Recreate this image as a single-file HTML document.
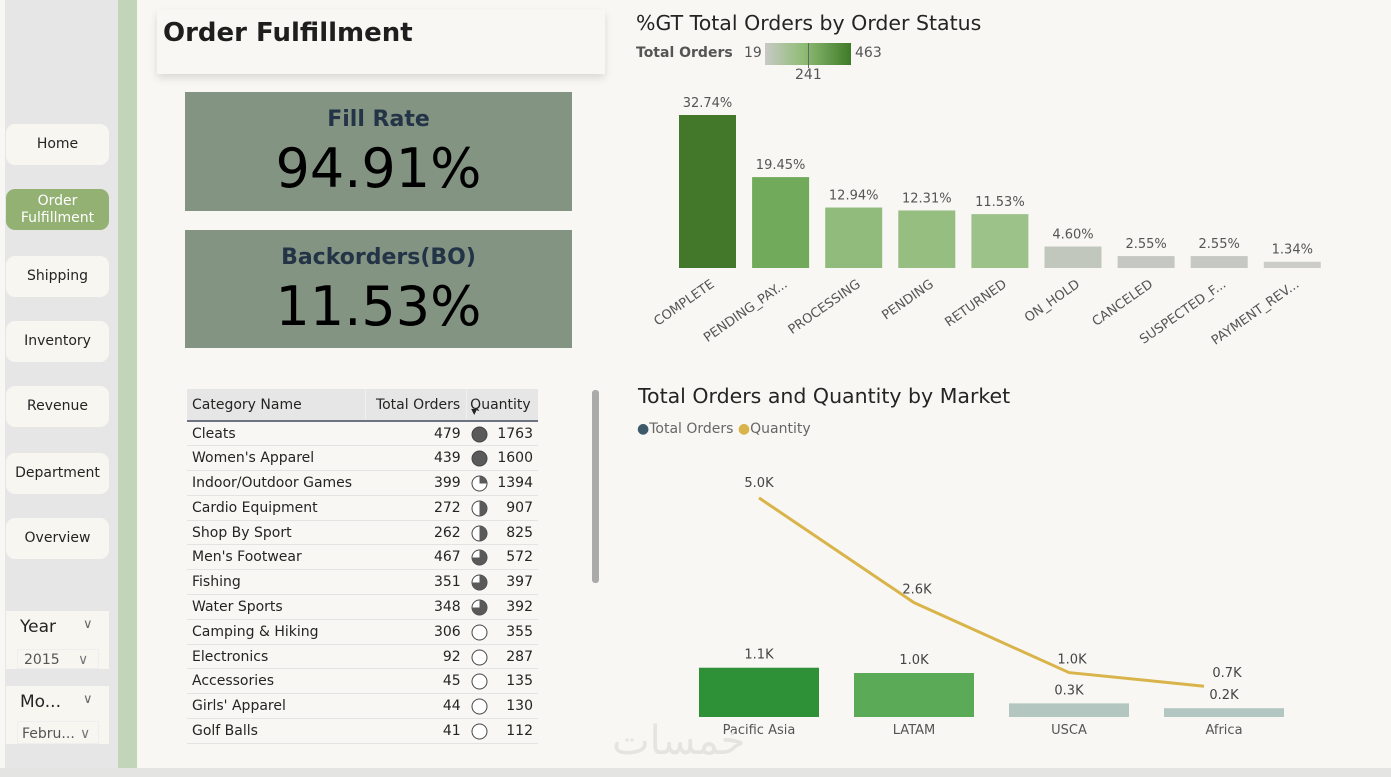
<!DOCTYPE html>
<html><head><meta charset="utf-8">
<style>
*{box-sizing:border-box;margin:0;padding:0}
body{width:1391px;height:777px;background:#f8f7f3;font-family:"DejaVu Sans","Liberation Sans",sans-serif;position:relative;overflow:hidden;color:#252423}
.abs{position:absolute}
.nav{position:absolute;left:6px;width:103px;height:41px;background:#f7f6f1;border-radius:9px;font-size:14px;display:flex;align-items:center;justify-content:center;text-align:center;color:#252423;line-height:17px}
.kpi{position:absolute;left:185px;width:387px;background:#849482;text-align:center}
.kpi .t{font-weight:bold;font-size:22px;color:#243447;margin-top:15px}
.kpi .v{font-size:54px;color:#000;line-height:62px;margin-top:6px}
table{border-collapse:collapse;font-size:14px}
</style></head><body>
<div class="abs" style="left:5px;top:0;width:113px;height:768px;background:#e6e6e6"></div>
<div class="abs" style="left:118px;top:0;width:19px;height:768px;background:#c2d5b9"></div>
<div class="abs" style="left:0;top:768px;width:1391px;height:9px;background:#e4e4e2"></div>
<div class="nav" style="top:124px">Home</div>
<div class="nav" style="top:189px;background:#94b174;color:#fff">Order<br>Fulfillment</div>
<div class="nav" style="top:256px">Shipping</div>
<div class="nav" style="top:321px">Inventory</div>
<div class="nav" style="top:386px">Revenue</div>
<div class="nav" style="top:453px">Department</div>
<div class="nav" style="top:518px">Overview</div>
<div class="abs" style="left:6px;top:611px;width:103px;height:58px;background:#f7f6f1">
 <div class="abs" style="left:14px;top:6px;font-size:17px">Year</div><div class="abs" style="left:77px;top:6px;font-size:13px;color:#666">&#8744;</div>
 <div class="abs" style="left:11px;top:38px;width:82px;height:20px;border:1px solid #eee;font-size:14px;color:#555;padding-left:6px;padding-top:2px">2015 <span style="position:absolute;left:60px;color:#777">&#8744;</span></div>
</div>
<div class="abs" style="left:6px;top:686px;width:103px;height:58px;background:#f7f6f1">
 <div class="abs" style="left:14px;top:6px;font-size:17px">Mo...</div><div class="abs" style="left:77px;top:6px;font-size:13px;color:#666">&#8744;</div>
 <div class="abs" style="left:11px;top:35px;width:82px;height:23px;border:1px solid #eee;font-size:14px;color:#555;padding-left:4px;padding-top:4px">Febru...<span style="position:absolute;left:62px;color:#777">&#8744;</span></div>
</div>

<div class="abs" style="left:157px;top:10px;width:448px;height:64px;background:#f8f7f3;box-shadow:0 4px 8px rgba(0,0,0,0.12)">
 <div class="abs" style="left:6px;top:8px;font-size:26px;font-weight:bold;color:#1e1e1e">Order Fulfillment</div>
</div>
<div class="kpi" style="top:92px;height:119px"><div class="t">Fill Rate</div><div class="v">94.91%</div></div>
<div class="kpi" style="top:230px;height:118px"><div class="t">Backorders(BO)</div><div class="v">11.53%</div></div>

<div class="abs" style="left:187px;top:389px;width:351px">
<table id="tbl" style="width:351px">
<thead><tr style="background:#e6e6e6;height:32px;border-bottom:2px solid #6b7480">
<th style="text-align:left;font-weight:normal;padding-left:5px;width:178px">Category Name</th>
<th style="text-align:right;font-weight:normal;padding-right:6px;border-left:1px solid #f0f0f0">Total Orders</th>
<th style="text-align:left;font-weight:normal;padding-left:3px;border-left:1px solid #f0f0f0;position:relative">Quantity<span style="position:absolute;left:4px;top:18px;font-size:8px">&#9660;</span></th></tr></thead>
<tbody id="tb"></tbody></table></div>
<div class="abs" style="left:592px;top:390px;width:7px;height:193px;background:#aaa;border-radius:3px"></div>

<div class="abs" style="left:636px;top:11px;font-size:20.5px;color:#252423">%GT Total Orders by Order Status</div>
<div class="abs" style="left:636px;top:45px;font-size:14px;font-weight:bold;color:#555">Total Orders</div>
<div class="abs" style="left:744px;top:45px;font-size:14px;color:#555">19</div>
<div class="abs" style="left:765px;top:43px;width:86px;height:22px;background:linear-gradient(90deg,#c8c9c5,#8fbc75 45%,#3f7a28)"></div>
<div class="abs" style="left:808px;top:43px;width:1px;height:25px;background:#666"></div>
<div class="abs" style="left:855px;top:45px;font-size:14px;color:#555">463</div>
<div class="abs" style="left:795px;top:67px;font-size:14px;color:#555">241</div>
<svg class="abs" id="st" style="left:0;top:0" width="1391" height="777"></svg>

<div class="abs" style="left:638px;top:384px;font-size:20.5px;color:#252423">Total Orders and Quantity by Market</div>
<div class="abs" style="left:637px;top:421px;font-size:14px;color:#666"><span style="color:#3e5a6a">&#9679;</span>Total Orders <span style="color:#d9b44a">&#9679;</span>Quantity</div>
<div class="abs" style="left:612px;top:718px;font-size:40px;color:#e6e4de;font-family:'DejaVu Sans',sans-serif">خمسات</div>

<script>
const rowsNames=["Cleats","Women's Apparel","Indoor/Outdoor Games","Cardio Equipment","Shop By Sport","Men's Footwear","Fishing","Water Sports","Camping & Hiking","Electronics","Accessories","Girls' Apparel","Golf Balls"];
const rowsOrders=[479,439,399,272,262,467,351,348,306,92,45,44,41];
const rowsQty=[1763,1600,1394,907,825,572,397,392,355,287,135,130,112];
const rowsFill=[1,1,0.25,0.5,0.5,0.75,0.75,0.75,0,0,0,0,0];
const tb=document.getElementById('tb');
function pie(f){
  if(f>=1)return '<svg width="17" height="17"><circle cx="8.5" cy="8.5" r="7.5" fill="#5a5a5a" stroke="#444"/></svg>';
  let s='<svg width="17" height="17"><circle cx="8.5" cy="8.5" r="7.5" fill="#fff" stroke="#444"/>';
  if(f>0){const a=f*2*Math.PI;const x=8.5+7.5*Math.sin(a),y=8.5-7.5*Math.cos(a);
  s+='<path d="M8.5 8.5 L8.5 1 A7.5 7.5 0 '+(f>0.5?1:0)+' 1 '+x+' '+y+' Z" fill="#5a5a5a"/>';}
  return s+'</svg>';
}
rowsNames.forEach((n,i)=>{
  const tr=document.createElement('tr');
  
  
  tr.style.height='24.8px';tr.style.borderBottom='1px solid #e3e3e3';
  tr.innerHTML='<td style="padding-left:5px">'+n+'</td><td style="text-align:right;padding-right:6px">'+rowsOrders[i]+'</td><td style="position:relative"><span style="position:absolute;left:4px;top:4px">'+pie(rowsFill[i])+'</span><span style="float:right;padding-right:5px">'+rowsQty[i]+'</span></td>';
  tb.appendChild(tr);
});

const NS='http://www.w3.org/2000/svg';
function mk(svg,t,a){const e=document.createElementNS(NS,t);for(const k in a)e.setAttribute(k,a[k]);svg.appendChild(e);return e;}

const statusCats=["COMPLETE","PENDING_PAY...","PROCESSING","PENDING","RETURNED","ON_HOLD","CANCELED","SUSPECTED_F...","PAYMENT_REV..."];
const statusPct=[32.74,19.45,12.94,12.31,11.53,4.60,2.55,2.55,1.34];
const statusColors=["#43782b","#70aa5a","#90bb7c","#95be80","#9cc189","#c1c7bd","#c5c8c2","#c6c8c3","#cccdc8"];
const st=document.getElementById('st');
const sBase=268,sScale=153/32.74,sX0=679,sStep=73.1,sW=57;
const sy=v=>sBase-v*sScale, sx=i=>sX0+i*sStep;
statusPct.forEach((v,i)=>{
  const r=mk(st,'rect',{x:sx(i),y:sy(v),width:sW,height:sBase-sy(v),fill:statusColors[i]});
  
  
  const t=mk(st,'text',{x:sx(i)+sW/2,y:sy(v)-8,'text-anchor':'middle','font-size':13,fill:'#555','font-family':'DejaVu Sans, sans-serif'});
  t.textContent=v.toFixed(2)+'%';
  
  
  const cx=sx(i)+sW/2+2,cy=sBase+10;
  const l=mk(st,'text',{x:cx,y:cy,'text-anchor':'end','font-size':13,fill:'#555','font-family':'DejaVu Sans, sans-serif',transform:'rotate(-35 '+cx+' '+cy+')',dy:'0.75em'});
  l.textContent=statusCats[i];
  
  
});

const markets=["Pacific Asia","LATAM","USCA","Africa"];
const marketOrders=[1120,1000,310,200];
const marketQty=[4980,2600,1010,700];
const marketColors=["#2e9138","#5aaa58","#b3c6bf","#b3c6c2"];
const mBase=717,mScale=44/1000,mX0=759,mStep=155,mW=120;
const my=v=>mBase-v*mScale, mx=i=>mX0+i*mStep;
const fmt=v=>(v/1000).toFixed(1)+'K';
marketOrders.forEach((v,i)=>{
  const r=mk(st,'rect',{x:mx(i)-mW/2,y:my(v),width:mW,height:mBase-my(v),fill:marketColors[i]});
  
  
  const t=mk(st,'text',{x:mx(i),y:my(v)-9,'text-anchor':'middle','font-size':13,fill:'#444','font-family':'DejaVu Sans, sans-serif'});
  t.textContent=fmt(v);
  
  
  const l=mk(st,'text',{x:mx(i),y:mBase+17,'text-anchor':'middle','font-size':13,fill:'#555','font-family':'DejaVu Sans, sans-serif'});
  l.textContent=markets[i];
  
  
});
const pts=marketQty.map((v,i)=>(mx(i)-(i==3?20:0))+','+my(v)).join(' ');
const pl=mk(st,'polyline',{points:pts,fill:'none',stroke:'#d9b44a','stroke-width':3,'stroke-linejoin':'round'});


marketQty.forEach((v,i)=>{
  const t=mk(st,'text',{x:mx(i)+(i==0?0:3),y:my(v)-(i==0?11:9),'text-anchor':'middle','font-size':13,fill:'#444','font-family':'DejaVu Sans, sans-serif'});
  t.textContent=fmt(v);
  
  
});
</script>
</body></html>
